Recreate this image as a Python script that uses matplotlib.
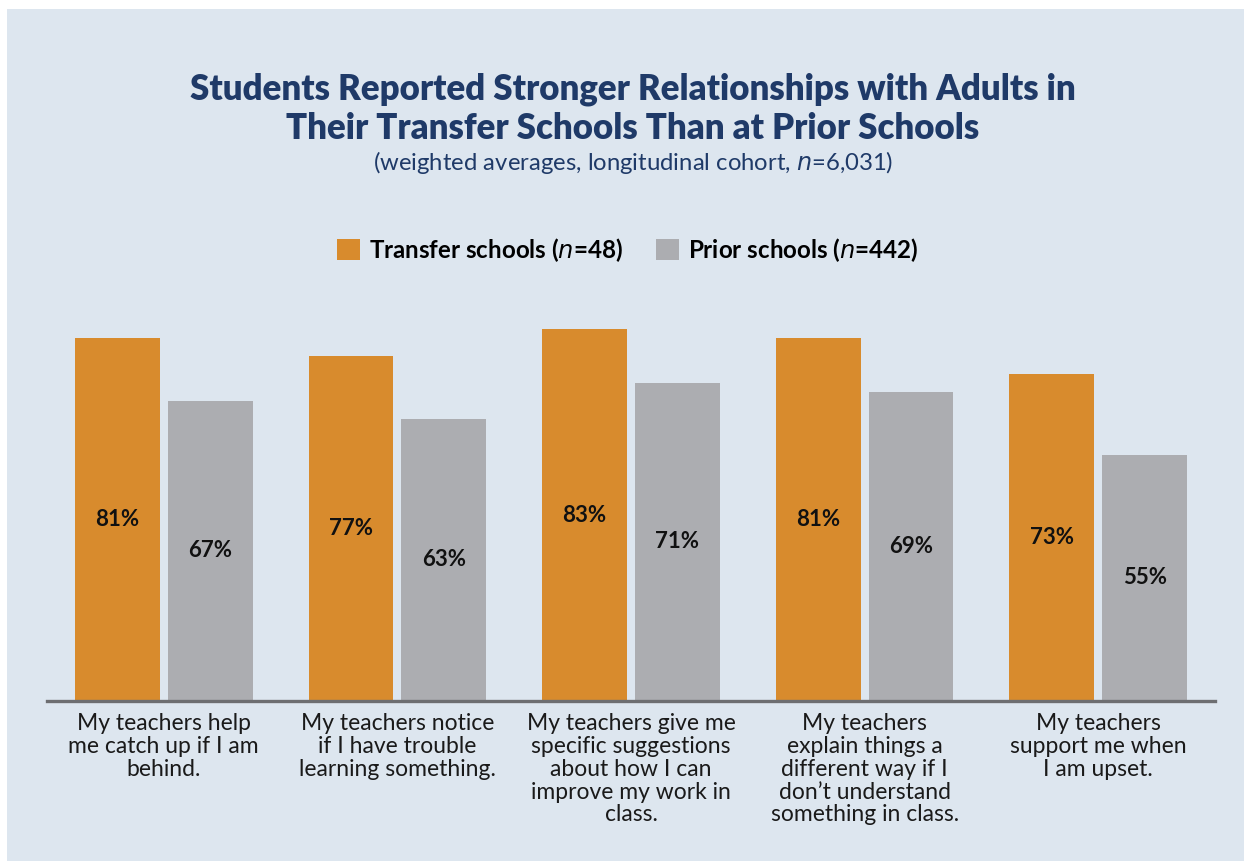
import numpy as np
import matplotlib
matplotlib.use("Agg")
import matplotlib.pyplot as plt
from matplotlib.patches import Patch, Rectangle

plt.rcParams["font.family"] = ["Lato", "DejaVu Sans"]

CATEGORIES = [
    "My teachers help\nme catch up if I am\nbehind.",
    "My teachers notice\nif I have trouble\nlearning something.",
    "My teachers give me\nspecific suggestions\nabout how I can\nimprove my work in\nclass.",
    "My teachers\nexplain things a\ndifferent way if I\ndon\u2019t understand\nsomething in class.",
    "My teachers\nsupport me when\nI am upset.",
]
TRANSFER = [81, 77, 83, 81, 73]
PRIOR = [67, 63, 71, 69, 55]
SERIES_LABELS = [r"Transfer schools ($\bf{\it{n}}$=48)", r"Prior schools ($\bf{\it{n}}$=442)"]

ORANGE = "#D88B2D"
GRAY = "#ACADB1"
BG = "#DDE6EF"
NAVY = "#1F3A68"
AXIS = "#6D6E71"

W, H = 1244, 861
fig = plt.figure(figsize=(W / 100, H / 100), dpi=100)
fig.patch.set_facecolor("white")
# light panel behind everything, leaving a thin white margin top/left
fig.patches.append(Rectangle((7 / W, 0), 1 - 7 / W, 1 - 9 / H,
                             transform=fig.transFigure, facecolor=BG,
                             edgecolor="none", zorder=-10))

ax = fig.add_axes([47 / W, (H - 701) / H, 1168 / W, 448 / H])
ax.set_facecolor("none")

x = np.arange(len(CATEGORIES))
off, bw = 0.199, 0.363
b1 = ax.bar(x - off, TRANSFER, bw, color=ORANGE, zorder=2)
b2 = ax.bar(x + off, PRIOR, bw, color=GRAY, zorder=2)

for bars, vals in ((b1, TRANSFER), (b2, PRIOR)):
    for r, v in zip(bars, vals):
        ax.text(r.get_x() + r.get_width() / 2, v / 2, f"{v}%",
                ha="center", va="center", fontsize=16, fontweight="bold",
                color="#111111", zorder=3)

ax.set_xlim(-0.5, 4.5)
ax.set_ylim(0, 100)
ax.set_yticks([])
ax.set_xticks(x)
ax.set_xticklabels(CATEGORIES, fontsize=16.5, color="#1a1a1a", linespacing=1.1,
                   va="top")
ax.tick_params(axis="x", length=0, pad=9)
for s in ("left", "right", "top"):
    ax.spines[s].set_visible(False)
ax.spines["bottom"].set_color(AXIS)
ax.spines["bottom"].set_linewidth(2.4)
ax.spines["bottom"].set_zorder(4)

fig.text(633 / W, 1 - 109 / H,
         "Students Reported Stronger Relationships with Adults in\n"
         "Their Transfer Schools Than at Prior Schools",
         ha="center", va="center", fontsize=25, fontweight="heavy",
         color=NAVY, linespacing=1.23)
fig.text(633 / W, 1 - 162 / H,
         r"(weighted averages, longitudinal cohort, $\it{n}$=6,031)",
         ha="center", va="center", fontsize=17.2, color=NAVY)

handles = [Patch(facecolor=ORANGE), Patch(facecolor=GRAY)]
fig.legend(handles, SERIES_LABELS, loc="center", bbox_to_anchor=(628 / W, 1 - 250 / H),
           ncol=2, frameon=False, prop={"size": 17.4, "weight": "bold"},
           handlelength=0.95, handleheight=0.95, handletextpad=0.38,
           columnspacing=1.35)

fig.savefig("out.png", dpi=100, facecolor=fig.get_facecolor())
